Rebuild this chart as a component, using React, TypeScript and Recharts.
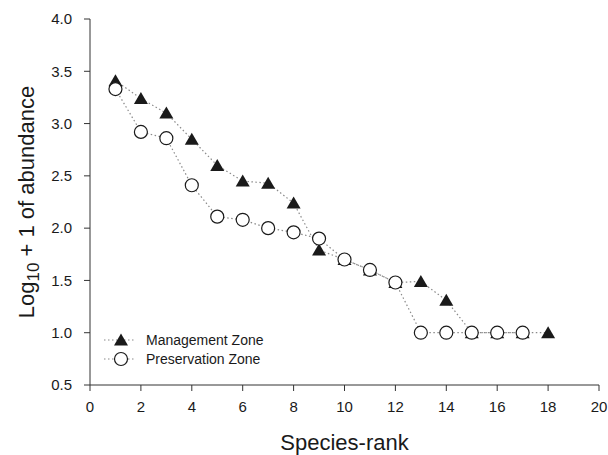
import React from "react";
import { LineChart, Line, XAxis, YAxis, Legend } from "recharts";

// Rank-abundance curves for the two zones (log10 + 1 of abundance by species rank)

const ranks = [1, 2, 3, 4, 5, 6, 7, 8, 9, 10, 11, 12, 13, 14, 15, 16, 17, 18];
const managementZone = [3.41, 3.24, 3.1, 2.85, 2.6, 2.45, 2.43, 2.24, 1.79, 1.7, 1.6, 1.48, 1.49, 1.31, 1.0, 1.0, 1.0, 1.0];
const preservationZone = [3.33, 2.92, 2.86, 2.41, 2.11, 2.08, 2.0, 1.96, 1.9, 1.7, 1.6, 1.48, 1.0, 1.0, 1.0, 1.0, 1.0, null];

const xTicks = [0, 2, 4, 6, 8, 10, 12, 14, 16, 18, 20];
const yTicks = [0.5, 1.0, 1.5, 2.0, 2.5, 3.0, 3.5, 4.0];

const FONT = '"Liberation Sans", Arial, sans-serif';
const INK = "#1a1a1a";
const LINE_GREY = "#8a8a8a";

const data = ranks.map((rank, i) => ({
  rank,
  management: managementZone[i],
  preservation: preservationZone[i],
}));

const Triangle = ({ cx, cy }: { cx: number; cy: number }) => (
  <path d={`M${cx},${cy - 6.5} L${cx + 7},${cy + 5.5} L${cx - 7},${cy + 5.5} Z`} fill={INK} />
);

const Circle = ({ cx, cy }: { cx: number; cy: number }) => (
  <circle cx={cx} cy={cy} r={6.5} fill="#fff" stroke={INK} strokeWidth={1.2} />
);

const triangleDot = (props: any) => {
  if (props.cx == null || props.cy == null || props.value == null) return <g key={props.index} />;
  return <Triangle key={props.index} cx={props.cx} cy={props.cy} />;
};

const circleDot = (props: any) => {
  if (props.cx == null || props.cy == null || props.value == null) return <g key={props.index} />;
  return <Circle key={props.index} cx={props.cx} cy={props.cy} />;
};

const LegendContent = ({ payload }: any) => (
  <div style={{ fontFamily: FONT, fontSize: 14, color: INK }}>
    {(payload ?? []).map((p: any) => (
      <div key={p.dataKey} style={{ display: "flex", alignItems: "center", height: 19.5 }}>
        <svg width={36} height={18} style={{ marginRight: 8 }}>
          <line x1={2} y1={9} x2={34} y2={9} stroke={LINE_GREY} strokeWidth={1.2} strokeDasharray="1.5 2.5" />
          {p.dataKey === "management" ? <Triangle cx={19} cy={9} /> : <Circle cx={19} cy={9} />}
        </svg>
        <span>{p.value}</span>
      </div>
    ))}
  </div>
);

export default function App() {
  return (
    <div style={{ position: "absolute", left: 0, top: 0, background: "#fff" }}>
      <LineChart width={608} height={455} data={data} margin={{ top: 19, right: 9, left: 0, bottom: 0 }}>
        <XAxis
          dataKey="rank"
          type="number"
          domain={[0, 20]}
          ticks={xTicks}
          height={70}
          tickSize={6}
          tickMargin={10}
          tick={{ fill: INK, fontSize: 15, fontFamily: FONT }}
          axisLine={{ stroke: "#333" }}
          tickLine={{ stroke: "#333" }}
          label={{
            content: ({ viewBox }: any) => (
              <text
                x={viewBox.x + viewBox.width / 2}
                y={viewBox.y + 65}
                textAnchor="middle"
                fontSize={22}
                fontFamily={FONT}
                fill={INK}
              >
                Species-rank
              </text>
            ),
          }}
        />
        <YAxis
          type="number"
          domain={[0.5, 4]}
          ticks={yTicks}
          width={90}
          tickSize={6}
          tickMargin={12}
          tickFormatter={(v: number) => v.toFixed(1)}
          tick={{ fill: INK, fontSize: 15, fontFamily: FONT }}
          axisLine={{ stroke: "#333" }}
          tickLine={{ stroke: "#333" }}
          label={{
            content: ({ viewBox }: any) => {
              const x = viewBox.x + 34;
              const y = viewBox.y + viewBox.height / 2;
              return (
                <text
                  x={x}
                  y={y}
                  transform={`rotate(-90 ${x} ${y})`}
                  textAnchor="middle"
                  fontSize={22}
                  fontFamily={FONT}
                  fill={INK}
                >
                  Log
                  <tspan fontSize={17} dy={5}>10</tspan>
                  <tspan dy={-5}> + 1 of abundance</tspan>
                </text>
              );
            },
          }}
        />
        <Legend
          layout="horizontal"
          verticalAlign="middle"
          align="center"
          content={<LegendContent />}
          wrapperStyle={{ position: "absolute", left: 102, top: 330, width: "auto" }}
        />
        <Line
          dataKey="management"
          name="Management Zone"
          stroke={LINE_GREY}
          strokeWidth={1.2}
          strokeDasharray="1.5 2.5"
          dot={triangleDot}
          activeDot={false}
          isAnimationActive={false}
        />
        <Line
          dataKey="preservation"
          name="Preservation Zone"
          stroke={LINE_GREY}
          strokeWidth={1.2}
          strokeDasharray="1.5 2.5"
          dot={circleDot}
          activeDot={false}
          isAnimationActive={false}
        />
      </LineChart>
    </div>
  );
}
